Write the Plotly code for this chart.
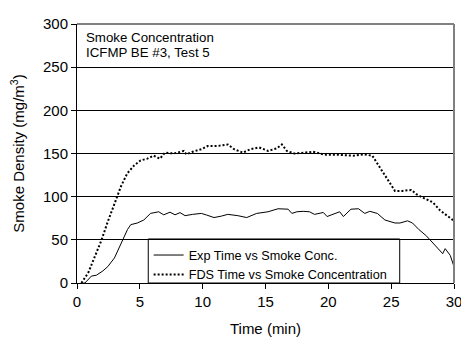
import plotly.graph_objects as go

exp_time = [0.5, 0.63, 1.15, 1.54, 2.06, 2.45, 2.98, 3.63, 4.02, 4.28, 4.8, 5.32, 5.85, 6.5,
            6.9, 7.4, 7.8, 8.2, 8.6, 9.2, 9.9, 10.3, 10.9, 11.5, 12.0, 12.8, 13.5, 14.3, 15.2,
            16.0, 16.8, 17.1, 17.5, 18.0, 18.5, 18.9, 19.6, 19.9, 20.5, 20.9, 21.2, 21.8,
            22.4, 22.9, 23.3, 23.9, 24.5, 25.3, 25.7, 26.3, 26.7, 27.2, 27.8, 28.3, 28.7,
            29.1, 29.3, 29.7, 30.0]
exp_conc = [0, 0, 8, 9, 14, 19, 29, 49, 62, 67.6, 69.5, 73, 80.6, 82.5,
            79, 82, 79, 81.5, 78, 79.5, 80.6, 78.8, 75.8, 77.5, 79.5, 78, 75.8, 80.6, 82.5,
            86, 85.5, 80.6, 82.5, 83, 82.5, 79.5, 81.7, 77, 80.6, 82.5, 77, 85.5,
            86, 80.6, 83, 80.6, 73, 69.5, 69.5, 72, 69.5, 62, 54.6, 47, 39.8,
            34, 39.8, 32, 19]

# FDS prediction
fds_time = [0.35, 0.9, 1.4, 1.93, 2.45, 3.1, 3.5, 4.0, 4.54, 5.06, 5.6, 6.1, 6.6, 7.0, 7.7,
            8.5, 8.7, 9.2, 9.9, 10.4, 11.2, 12.0, 12.5, 13.2, 13.8, 14.5, 15.2, 15.9, 16.3,
            16.7, 17.3, 18.1, 18.8, 19.7, 20.7, 22.0, 22.8, 23.5, 23.9, 24.4, 24.8, 25.3,
            25.9, 26.6, 27.0, 27.5, 28.3, 28.9, 29.5, 30.0]
fds_conc = [0, 12, 30, 49, 71, 97, 112, 127, 136, 142, 144, 147.5, 144, 151, 150,
            153, 149, 152, 155, 158.7, 158.7, 160.5, 155, 151, 155, 157, 153, 156, 160.5,
            153, 150, 151, 152, 148.6, 148.6, 147.5, 149, 147.5, 138, 127, 118, 106.7,
            106.7, 107.8, 103, 99, 93.6, 84, 77, 72]

font = "Arial, 'Liberation Sans', sans-serif"

trace0 = go.Scatter(x=exp_time, y=exp_conc, mode='lines',
                    name='Exp Time vs Smoke Conc.',
                    line=dict(color='black', width=1))
trace1 = go.Scatter(x=fds_time, y=fds_conc, mode='lines',
                    name='FDS Time vs Smoke Concentration',
                    line=dict(color='black', width=2, dash='2px,2px'))

# page body has an 8px margin, so the figure is sized/offset to compensate
layout = dict(
    width=461, height=339,
    margin=dict(l=69, r=9, t=7, b=64),
    paper_bgcolor='white', plot_bgcolor='white',
    font=dict(family=font, size=15, color='black'),
    showlegend=True,
    legend=dict(x=0.19, y=0.165, xanchor='left', yanchor='top',
                bgcolor='rgba(0,0,0,0)', borderwidth=0,
                font=dict(size=12.7), tracegroupgap=0),
    xaxis=dict(range=[0, 30], dtick=5, showgrid=False, zeroline=False,
               showline=True, linecolor='black', linewidth=1,
               ticks='outside', ticklen=5, tickcolor='black',
               ticklabeloverflow='allow',
               title=dict(text='Time (min)', standoff=14, font=dict(size=15))),
    yaxis=dict(range=[0, 300], dtick=50, showgrid=True, gridcolor='black', gridwidth=1,
               zeroline=False, showline=True, linecolor='black', linewidth=1,
               ticks='outside', ticklen=5, tickcolor='black',
               ticklabeloverflow='allow',
               title=dict(text='Smoke Density (mg/m<sup>3</sup>)', standoff=14,
                          font=dict(size=15))),
    shapes=[
        dict(type='rect', xref='paper', yref='paper', x0=0.189, x1=0.856, y0=0, y1=0.17,
             line=dict(color='black', width=1), fillcolor='white', layer='below'),
        dict(type='line', xref='paper', yref='paper', x0=0, x1=1, y0=1, y1=1,
             line=dict(color='#808080', width=2)),
        dict(type='line', xref='paper', yref='paper', x0=1, x1=1, y0=0, y1=1,
             line=dict(color='#808080', width=2)),
    ],
    annotations=[
        dict(text='Smoke Concentration', xref='paper', yref='paper', x=0.019, y=0.946,
             xanchor='left', yanchor='middle', showarrow=False, font=dict(size=13.3)),
        dict(text='ICFMP BE #3, Test 5', xref='paper', yref='paper', x=0.019, y=0.89,
             xanchor='left', yanchor='middle', showarrow=False, font=dict(size=13.3)),
    ],
)

fig = go.Figure(data=[trace0, trace1], layout=layout)
fig.write_html("out.html")
